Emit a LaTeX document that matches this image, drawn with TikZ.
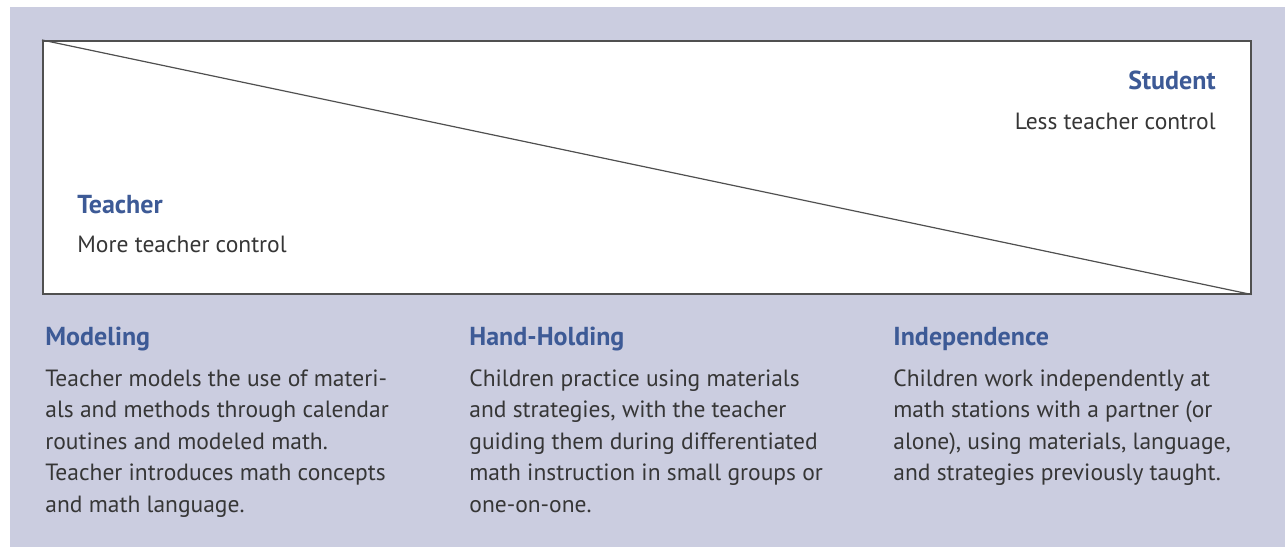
\documentclass[tikz,border=0pt]{standalone}
\usepackage{fontspec}
\setmainfont{PT Sans}
\usetikzlibrary{positioning}
\definecolor{lavender}{HTML}{CBCDE0}
\definecolor{headblue}{HTML}{3D5A96}
\definecolor{bodygray}{HTML}{363636}
\definecolor{framegray}{HTML}{505050}
\begin{document}
\begin{tikzpicture}[x=0.5pt, y=-0.5pt,
    head/.style={font=\fontsize{13}{15.75}\selectfont\bfseries, text=headblue, inner sep=0pt},
    body/.style={font=\fontsize{11.75}{15.75}\selectfont, text=bodygray, inner sep=0pt, align=left}]

\useasboundingbox (0,0) rectangle (1285,547);
\fill[lavender] (10,7) rectangle (1285,547);

% control box
\node[draw=framegray, fill=white, line width=0.75pt, inner sep=0pt,
      minimum width=604pt, minimum height=126.5pt, anchor=north west] (frame) at (42,40) {};
\draw[framegray, line width=0.6pt] (frame.north west) -- (frame.south east);

\node[head, anchor=base east] (student) at (1216,89) {Student};
\node[body, anchor=base east] (less) at (1216,129) {Less teacher control};
\node[head, anchor=base west] (teacher) at (77,213) {Teacher};
\node[body, anchor=base west] (more) at (77,252) {More teacher control};

% the three stages (base = last line)
\node[head, anchor=base west] (modeling) at (45,345) {Modeling};
\node[body, anchor=base west] (modtext) at (45,512)
    {Teacher models the use of materi-\\als and methods through calendar\\routines and modeled math.\\Teacher introduces math concepts\\and math language.};

\node[head, anchor=base west] (holding) at (469,345) {Hand-Holding};
\node[body, anchor=base west] (holdtext) at (469,512)
    {Children practice using materials\\and strategies, with the teacher\\guiding them during differentiated\\math instruction in small groups or\\one-on-one.};

\node[head, anchor=base west] (independence) at (893,345) {Independence};
\node[body, anchor=base west] (indtext) at (893,480.5)
    {Children work independently at\\math stations with a partner (or\\alone), using materials, language,\\and strategies previously taught.};
\end{tikzpicture}
\end{document}
